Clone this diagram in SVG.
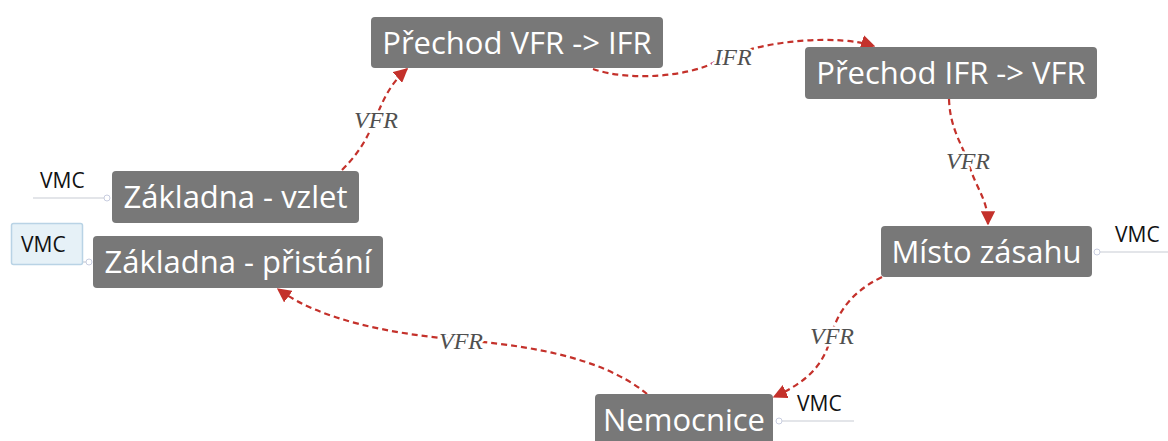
<svg xmlns="http://www.w3.org/2000/svg" width="1168" height="441" viewBox="0 0 1168 441">
<style>
.node rect{fill:#787878;rx:4px}
.node text{fill:#fff;font-family:"Open Sans","Noto Sans",sans-serif;font-size:31px;text-anchor:middle}
.edge{fill:none;stroke:#c4312b;stroke-width:2.2;stroke-dasharray:6 4;marker-end:url(#arr)}
.elabel{font-family:"Liberation Serif",serif;font-style:italic;font-size:24px;fill:#505050;text-anchor:middle;stroke:#fff;stroke-width:5px;paint-order:stroke;stroke-linejoin:round}
.vmc{font-family:"Open Sans","Noto Sans",sans-serif;font-size:21px;fill:#111}
.vline{stroke:#c8ccd4;stroke-width:1.2;fill:none}
.vdot{fill:#fff;stroke:#c8cde0;stroke-width:1}
</style>
<defs>
<marker id="arr" viewBox="0 0 10 10" refX="9" refY="5" markerWidth="6.5" markerHeight="6.5" orient="auto" markerUnits="strokeWidth">
<path d="M0,0 L10,5 L0,10 z" fill="#c4312b"/>
</marker>
</defs>
<rect width="1168" height="441" fill="#fff"/>
<g id="connectors">
<path class="edge" d="M342,170 C362,150 368,135 375,120 C383,100 390,84 407,69"/>
<path class="edge" d="M593,69 C630,82 690,76 715,62 C765,38 840,35 874,46"/>
<path class="edge" d="M949,99 C950,130 963,145 969,165 C977,190 988,200 988,224"/>
<path class="edge" d="M882,277 C845,295 835,320 830,340 C822,370 800,385 774,397"/>
<path class="edge" d="M647,394 C600,355 520,345 462,340 C390,334 320,320 278,289"/>
<text class="elabel" x="376" y="128">VFR</text>
<text class="elabel" x="733" y="65">IFR</text>
<text class="elabel" x="968" y="169">VFR</text>
<text class="elabel" x="832" y="344">VFR</text>
<text class="elabel" x="461" y="349">VFR</text>
</g>
<g id="vmc-vzlet">
<line class="vline" x1="33" y1="198" x2="107" y2="198"/>
<circle class="vdot" cx="107" cy="198" r="3"/>
<text class="vmc" x="40" y="188">VMC</text>
</g>
<g id="vmc-pristani">
<line class="vline" x1="82" y1="262" x2="90" y2="262"/>
<circle class="vdot" cx="89" cy="262" r="3"/>
<rect x="11.5" y="223.5" width="71" height="41" fill="#e6f1f7" stroke="#b9d3e5" stroke-width="1.5" rx="2"/>
<text class="vmc" x="21" y="252">VMC</text>
</g>
<g id="vmc-misto">
<line class="vline" x1="1097" y1="252" x2="1168" y2="252"/>
<circle class="vdot" cx="1097" cy="252" r="3"/>
<text class="vmc" x="1115" y="242">VMC</text>
</g>
<g id="vmc-nemocnice">
<line class="vline" x1="779" y1="421" x2="854" y2="421"/>
<circle class="vdot" cx="779" cy="421" r="3"/>
<text class="vmc" x="797" y="411">VMC</text>
</g>
<g id="node-prechod-vfr-ifr" class="node">
<rect x="371" y="17" width="292" height="51"/>
<text x="517" y="54">Přechod VFR -&gt; IFR</text>
</g>
<g id="node-prechod-ifr-vfr" class="node">
<rect x="805" y="47" width="292" height="52"/>
<text x="951" y="84">Přechod IFR -&gt; VFR</text>
</g>
<g id="node-misto-zasahu" class="node">
<rect x="881" y="226" width="211" height="51"/>
<text x="986.5" y="263">Místo zásahu</text>
</g>
<g id="node-nemocnice" class="node">
<rect x="595" y="394" width="178" height="60"/>
<text x="684" y="431">Nemocnice</text>
</g>
<g id="node-zakladna-vzlet" class="node">
<rect x="112" y="171" width="247" height="52"/>
<text x="235.5" y="208">Základna - vzlet</text>
</g>
<g id="node-zakladna-pristani" class="node">
<rect x="93" y="236" width="290" height="52"/>
<text x="238" y="273">Základna - přistání</text>
</g>
</svg>
